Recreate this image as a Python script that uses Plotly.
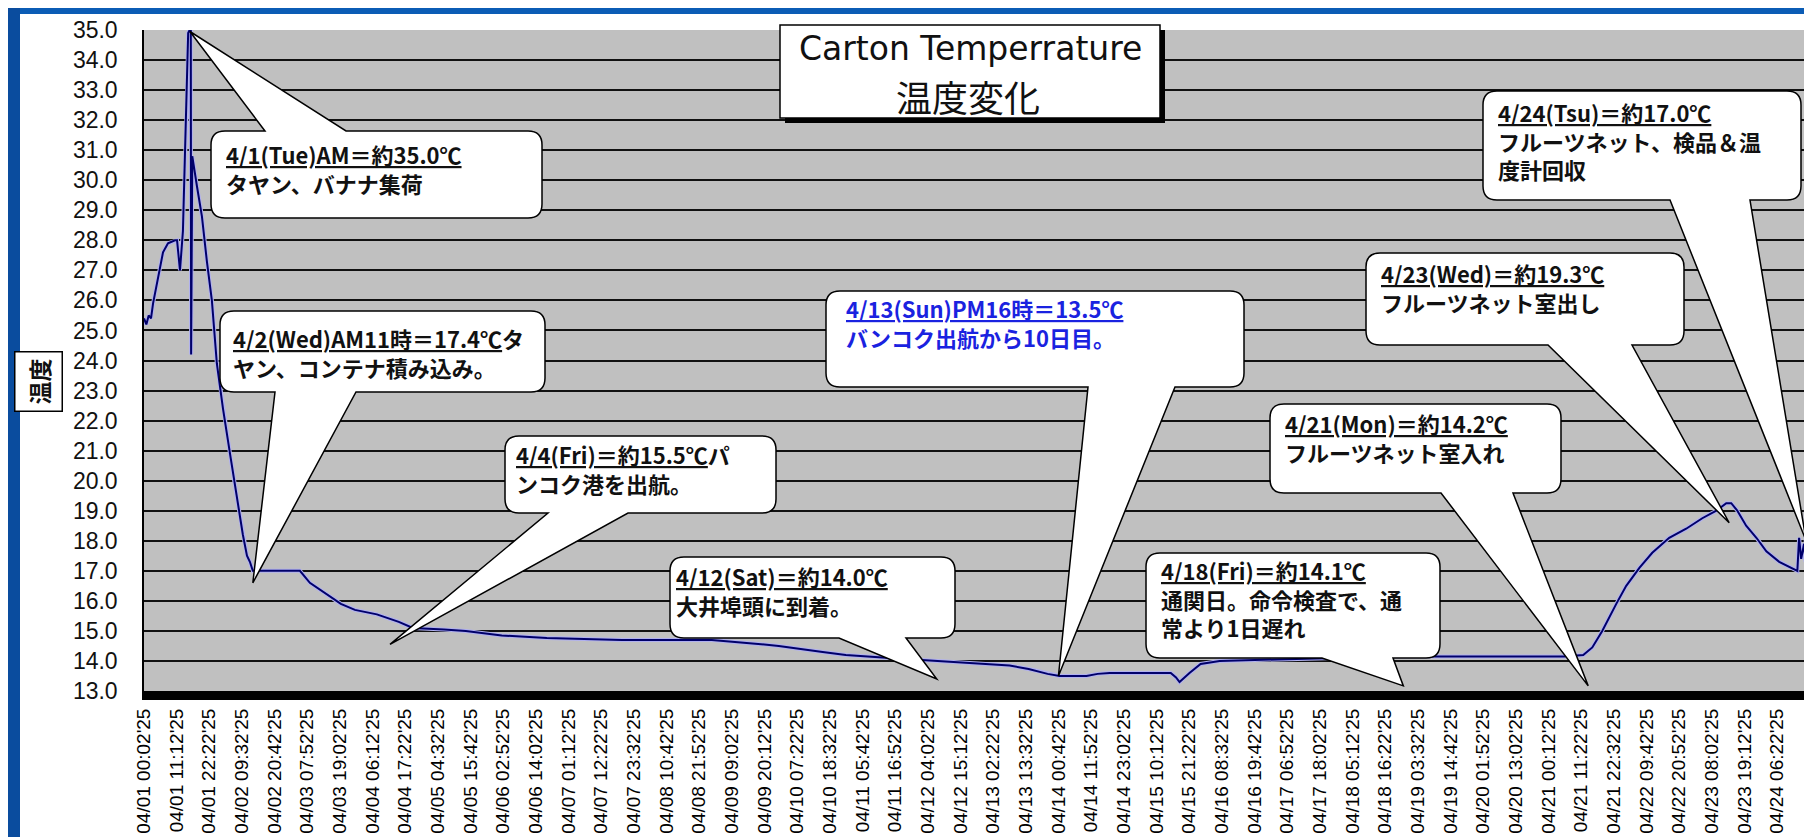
import plotly.graph_objects as go

# ---------------- data ----------------
# elapsed hours since logger start (04/01 00:02'25) and carton temperature (deg C)
elapsed_h = [0.0, 0.8, 1.6, 2.4, 3.1, 4.8, 6.5, 8.2, 10.6, 11.3, 12.3, 13.3, 14.7, 15.1, 15.6, 16.0,
             16.1, 16.5, 18.1, 19.8, 21.5, 23.2, 24.9, 27.0, 29.4, 31.8, 33.8, 35.2, 36.2, 37.2,
             39.6, 46.5, 53.3, 56.7, 62.9, 67.3, 72.1, 79.6, 87.1, 91.9, 102.5, 110.0, 122.3, 137.7,
             163.3, 194.1, 206.0, 217.0, 232.0, 239.9, 254.9, 270.3, 285.7, 295.9, 302.4, 308.9,
             313.0, 322.2, 326.0, 330.1, 351.0, 352.8, 354.0, 355.6, 357.4, 361.2, 367.7, 387.5,
             426.8, 485.5, 492.0, 495.1, 498.5, 503.3, 506.7, 511.2, 515.6, 521.4, 527.2, 532.7,
             537.5, 540.9, 542.6, 544.7, 547.7, 551.2, 554.6, 559.0, 563.5, 565.2, 565.8, 566.5,
             567.5, 568.0, 568.4]
temp_c = [25.4, 25.2, 25.5, 25.4, 25.9, 26.8, 27.6, 27.9, 28.0, 28.0, 27.0, 28.3, 32.8, 34.9, 35.0, 35.0,
          24.2, 30.8, 29.8, 28.8, 27.3, 26.0, 23.9, 22.4, 20.9, 19.4, 18.2, 17.5, 17.3, 17.0,
          17.0, 17.0, 17.0, 16.6, 16.2, 15.9, 15.7, 15.55, 15.3, 15.1, 15.05, 15.0, 14.85, 14.76,
          14.7, 14.7, 14.6, 14.5, 14.3, 14.2, 14.1, 14.0, 13.9, 13.85, 13.73, 13.57,
          13.5, 13.5, 13.57, 13.6, 13.6, 13.45, 13.3, 13.45, 13.6, 13.9, 14.0, 14.05,
          14.15, 14.15, 14.2, 14.45, 15.0, 15.9, 16.5, 17.1, 17.6, 18.1, 18.4, 18.75,
          19.0, 19.25, 19.25, 19.0, 18.5, 18.1, 17.65, 17.3, 17.1, 17.0, 18.1, 17.4,
          17.9, 17.3, 22.4]

tick_labels = ["04/01 00:02'25", "04/01 11:12'25", "04/01 22:22'25", "04/02 09:32'25", "04/02 20:42'25",
               "04/03 07:52'25", "04/03 19:02'25", "04/04 06:12'25", "04/04 17:22'25", "04/05 04:32'25",
               "04/05 15:42'25", "04/06 02:52'25", "04/06 14:02'25", "04/07 01:12'25", "04/07 12:22'25",
               "04/07 23:32'25", "04/08 10:42'25", "04/08 21:52'25", "04/09 09:02'25", "04/09 20:12'25",
               "04/10 07:22'25", "04/10 18:32'25", "04/11 05:42'25", "04/11 16:52'25", "04/12 04:02'25",
               "04/12 15:12'25", "04/13 02:22'25", "04/13 13:32'25", "04/14 00:42'25", "04/14 11:52'25",
               "04/14 23:02'25", "04/15 10:12'25", "04/15 21:22'25", "04/16 08:32'25", "04/16 19:42'25",
               "04/17 06:52'25", "04/17 18:02'25", "04/18 05:12'25", "04/18 16:22'25", "04/19 03:32'25",
               "04/19 14:42'25", "04/20 01:52'25", "04/20 13:02'25", "04/21 00:12'25", "04/21 11:22'25",
               "04/21 22:32'25", "04/22 09:42'25", "04/22 20:52'25", "04/23 08:02'25", "04/23 19:12'25",
               "04/24 06:22'25"]

title_lines = ["Carton Temperrature", "温度変化"]
y_title = "温度"

callout_text = [
    ["<u>4/1(Tue)AM＝約35.0℃</u>", "タヤン、バナナ集荷"],
    ["<u>4/2(Wed)AM11時＝17.4℃</u>タ", "ヤン、コンテナ積み込み。"],
    ["<u>4/4(Fri)＝約15.5℃</u>パ", "ンコク港を出航。"],
    ["<u>4/12(Sat)＝約14.0℃</u>", "大井埠頭に到着。"],
    ["<u>4/13(Sun)PM16時＝13.5℃</u>", "バンコク出航から10日目。"],
    ["<u>4/18(Fri)＝約14.1℃</u>", "通関日。命令検査で、通", "常より1日遅れ"],
    ["<u>4/21(Mon)＝約14.2℃</u>", "フルーツネット室入れ"],
    ["<u>4/23(Wed)＝約19.3℃</u>", "フルーツネット室出し"],
    ["<u>4/24(Tsu)＝約17.0℃</u>", "フルーツネット、検品＆温", "度計回収"],
]
# point each callout refers to (elapsed hours, deg C)
callout_tip_h = [15.7, 37.2, 84.1, 271.0, 312.6, 430.5, 493.7, 541.9, 568.2]
callout_tip_t = [34.95, 16.6, 14.55, 13.4, 13.5, 13.17, 13.17, 18.6, 18.0]

# ---------------- layout geometry (pixels) ----------------
W, H = 1812, 837
L, R, T, B = 136, 1799, 22, 683
X_RANGE = [0, 568.5]
Y_RANGE = [13, 35]

callout_color = ["#111111"] * 4 + ["#1a22e0"] + ["#111111"] * 4
callout_box = [(203, 123, 534, 210), (212, 303, 537, 384), (497, 428, 768, 505), (662, 549, 947, 630),
               (818, 283, 1236, 379), (1138, 545, 1432, 650), (1262, 396, 1553, 485),
               (1358, 245, 1676, 337), (1475, 83, 1793, 192)]
callout_side = ["top", "bottom", "bottom", "bottom", "bottom", "bottom", "bottom", "bottom", "bottom"]
callout_base = [(257, 338), (267, 348), (540, 620), (831, 898), (1080, 1167), (1314, 1385),
                (1433, 1505), (1540, 1624), (1662, 1742)]
callout_text_x = [216, 223, 506, 666, 836, 1151, 1275, 1371, 1488]
callout_text_y0 = [143, 327, 443, 565, 297, 559, 412, 262, 101]
CALLOUT_FONT = 22


def px2paper(x, y):
    return (x - L) / (R - L), (B - y) / (B - T)


def data2px(h, t):
    x = L + (h - X_RANGE[0]) / (X_RANGE[1] - X_RANGE[0]) * (R - L)
    y = B - (t - Y_RANGE[0]) / (Y_RANGE[1] - Y_RANGE[0]) * (B - T)
    return x, y


def fmt(p):
    a, b = px2paper(*p)
    return f"{a:.5f},{b:.5f}"


def bubble_path(box, side, base, tip, r=14):
    x0, y0, x1, y1 = box
    b0, b1 = base
    s = [f"M{fmt((x0 + r, y0))}"]
    if side == "top":
        s += [f"L{fmt((b0, y0))}", f"L{fmt(tip)}", f"L{fmt((b1, y0))}"]
    s += [f"L{fmt((x1 - r, y0))}", f"Q{fmt((x1, y0))} {fmt((x1, y0 + r))}",
          f"L{fmt((x1, y1 - r))}", f"Q{fmt((x1, y1))} {fmt((x1 - r, y1))}"]
    if side == "bottom":
        s += [f"L{fmt((b1, y1))}", f"L{fmt(tip)}", f"L{fmt((b0, y1))}"]
    s += [f"L{fmt((x0 + r, y1))}", f"Q{fmt((x0, y1))} {fmt((x0, y1 - r))}",
          f"L{fmt((x0, y0 + r))}", f"Q{fmt((x0, y0))} {fmt((x0 + r, y0))}", "Z"]
    return " ".join(s)


def rect(x0, y0, x1, y1, fill, line_w=0, line_c="black", layer="above"):
    a0, b0 = px2paper(x0, y1)
    a1, b1 = px2paper(x1, y0)
    return dict(type="rect", xref="paper", yref="paper", x0=a0, y0=b0, x1=a1, y1=b1,
                fillcolor=fill, line=dict(width=line_w, color=line_c), layer=layer)


tick_h = []
for lab in tick_labels:
    d = int(lab[3:5]); hh = int(lab[6:8]); mm = int(lab[9:11]); ss = int(lab[12:14])
    tick_h.append((d - 1) * 24 + hh + mm / 60 + ss / 3600 - (2 / 60 + 25 / 3600))

fig = go.Figure()
fig.add_trace(go.Scatter(x=elapsed_h, y=temp_c, mode="lines", line=dict(color="#b0b0f0", width=4),
                         hoverinfo="skip", showlegend=False))
fig.add_trace(go.Scatter(x=elapsed_h, y=temp_c, mode="lines", line=dict(color="#00006a", width=2),
                         showlegend=False))

shapes = []
# blue frame of the slide
shapes.append(rect(0, 0, W, 6, "#0b5cb5", layer="below"))
shapes.append(rect(0, 0, 12, H, "#0a4c9e", layer="below"))
# plot frame right edge
shapes.append(dict(type="line", xref="paper", yref="paper", x0=1, x1=1, y0=0, y1=1,
                   line=dict(color="#808080", width=1.5), layer="above"))

annotations = []
for i, lines in enumerate(callout_text):
    tip = data2px(callout_tip_h[i], callout_tip_t[i])
    shapes.append(dict(type="path", xref="paper", yref="paper",
                       path=bubble_path(callout_box[i], callout_side[i], callout_base[i], tip),
                       fillcolor="white", line=dict(color="black", width=1.5), layer="above"))
    ax, ay = px2paper(callout_text_x[i], callout_text_y0[i] - 0.68 * CALLOUT_FONT)
    annotations.append(dict(xref="paper", yref="paper", x=ax, y=ay, xanchor="left", yanchor="top",
                            align="left", text="<b>" + "<br>".join(lines) + "</b>", showarrow=False,
                            font=dict(family="Noto Sans CJK JP", size=CALLOUT_FONT, color=callout_color[i])))

# title box with shadow
shapes.append(rect(777, 22, 1157, 115, "black"))
shapes.append(rect(772, 17, 1152, 110, "white", 1.5))
tx, ty = px2paper(962, 41)
annotations.append(dict(xref="paper", yref="paper", x=tx, y=ty, xanchor="center", yanchor="middle",
                        text=title_lines[0], showarrow=False,
                        font=dict(family="DejaVu Sans", size=33, color="#111111")))
tx, ty = px2paper(960, 88)
annotations.append(dict(xref="paper", yref="paper", x=tx, y=ty, xanchor="center", yanchor="middle",
                        text=title_lines[1], showarrow=False,
                        font=dict(family="Noto Sans CJK JP", size=36, color="#111111")))
# y-axis title in a box
tx, ty = px2paper(30, 374)
annotations.append(dict(xref="paper", yref="paper", x=tx, y=ty, xanchor="center", yanchor="middle",
                        text=f"<b>{y_title}</b>", textangle=-90, showarrow=False, bgcolor="white",
                        bordercolor="black", borderwidth=1.5, borderpad=6,
                        font=dict(family="Noto Sans CJK JP", size=23, color="#111111")))

fig.update_layout(width=W, height=H, margin=dict(l=L, r=W - R, t=T, b=H - B, pad=0, autoexpand=False),
                  paper_bgcolor="white", plot_bgcolor="#c0c0c0", showlegend=False,
                  shapes=shapes, annotations=annotations, hovermode=False)
fig.update_xaxes(range=X_RANGE, tickmode="array", tickvals=tick_h, ticktext=tick_labels, tickangle=-90,
                 tickfont=dict(family="Liberation Sans", size=19, color="#000000"),
                 showgrid=False, zeroline=False, showline=True, linecolor="black", linewidth=9,
                 ticks="", ticklabelstandoff=1, automargin=False)
fig.update_yaxes(range=Y_RANGE, tick0=13, dtick=1, tickformat=".1f", showgrid=True, gridcolor="#111111",
                 gridwidth=1.5, zeroline=False, showline=True, linecolor="black", linewidth=1.5,
                 ticks="", ticklabelstandoff=20, automargin=False,
                 tickfont=dict(family="Liberation Sans", size=23, color="#111111"))

fig.write_html("out.html")
